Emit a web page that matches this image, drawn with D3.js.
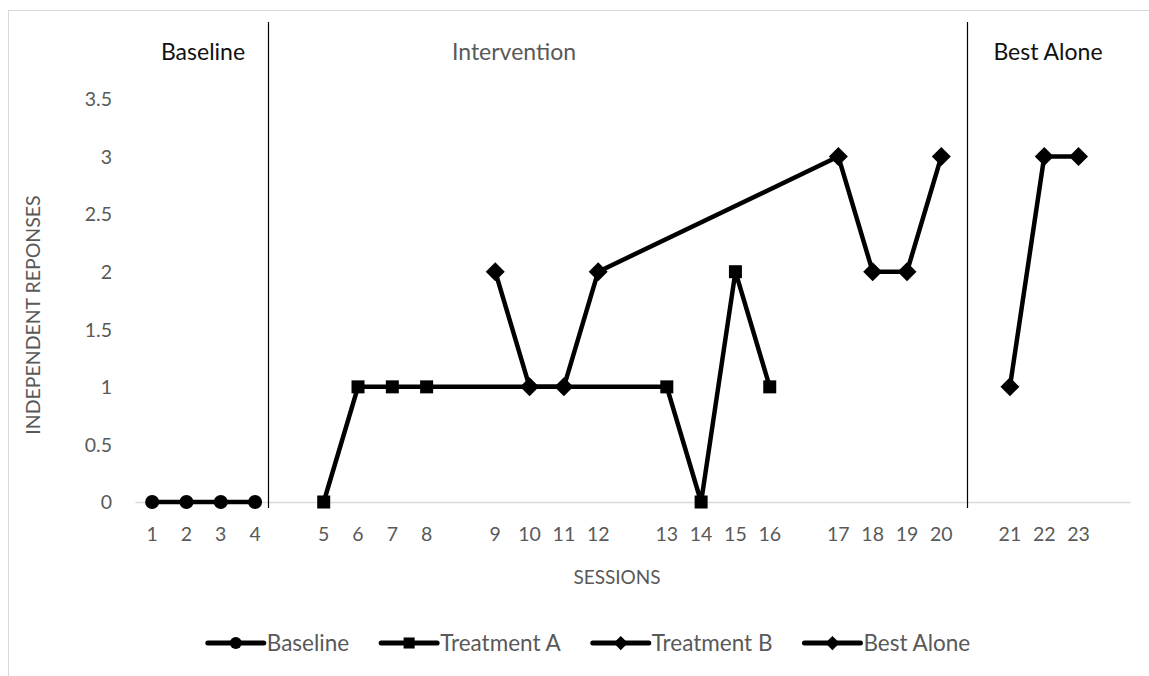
<!DOCTYPE html>
<html>
<head>
<meta charset="utf-8">
<script src="https://cdn.jsdelivr.net/npm/d3@7"></script>
<style>
  html, body { margin: 0; padding: 0; background: #fff; }
  svg { display: block; font-family: Lato, "Liberation Sans", sans-serif; }
</style>
</head>
<body>
<svg id="chart" width="1149" height="676"></svg>
<script>
// ---- data ----
const categories = ["1","2","3","4","","5","6","7","8","","9","10","11","12","","13","14","15","16","","17","18","19","20","","21","22","23",""];
const yTicks = [0, 0.5, 1, 1.5, 2, 2.5, 3, 3.5];

const baselineSessions = [1, 2, 3, 4];
const baselineValues   = [0, 0, 0, 0];

const treatmentASessions = [5, 6, 7, 8, 13, 14, 15, 16];
const treatmentAValues   = [0, 1, 1, 1, 1, 0, 2, 1];

const treatmentBSessions = [9, 10, 11, 12, 17, 18, 19, 20];
const treatmentBValues   = [2, 1, 1, 2, 3, 2, 2, 3];

const bestAloneSessions = [21, 22, 23];
const bestAloneValues   = [1, 3, 3];

const phaseNames = ["Baseline", "Intervention", "Best Alone"];

// ---- layout ----
const svg = d3.select("#chart");
const plot = { left: 135, right: 1130, top: 99, bottom: 502 };

svg.append("rect").attr("x", 8.5).attr("y", 10.5).attr("width", 1200).attr("height", 700)
  .attr("fill", "#fff").attr("stroke", "#d9d9d9").attr("stroke-width", 1);

const x = d3.scaleBand().domain(d3.range(categories.length)).range([plot.left, plot.right]).padding(0);
const bw = x.bandwidth();
const xc = i => x(i) + bw / 2;
const y = d3.scaleLinear().domain([0, 3.5]).range([plot.bottom, plot.top]);

// x axis
const xAxis = d3.axisBottom(x).tickSize(0).tickPadding(0).tickFormat(i => categories[i]);
const gx = svg.append("g").attr("transform", `translate(0,${plot.bottom})`).call(xAxis);
gx.select(".domain").attr("stroke", "#d9d9d9").attr("stroke-width", 1.5);
gx.selectAll("text").attr("fill", "#595959").attr("font-size", 19.5).attr("font-family", "Lato")
  .attr("y", 32).attr("dy", "0.35em");

// y axis
const yAxis = d3.axisLeft(y).tickValues(yTicks).tickSize(0).tickPadding(0).tickFormat(d => String(d));
const gy = svg.append("g").attr("transform", `translate(${plot.left},0)`).call(yAxis);
gy.select(".domain").remove();
gy.selectAll("text").attr("fill", "#595959").attr("font-size", 19.5).attr("font-family", "Lato")
  .attr("x", -23).attr("dy", "0.35em");

// phase lines
const phaseLinePos = [3.88, 24.25]; // in category units from left edge
phaseLinePos.forEach(p => {
  const px = Math.round(plot.left + p * bw) + 0.5;
  svg.append("line").attr("x1", px).attr("x2", px).attr("y1", 22).attr("y2", 508)
    .attr("stroke", "#000").attr("stroke-width", 1.2);
});

// phase labels
const phaseLabelX = [203, 514, 1048];
const phaseLabelColor = ["#111", "#595959", "#111"];
phaseNames.forEach((n, i) => {
  svg.append("text").attr("x", phaseLabelX[i]).attr("y", 52).attr("dy", "0.35em")
    .attr("text-anchor", "middle").attr("font-size", 23).attr("fill", phaseLabelColor[i]).text(n);
});

// axis titles
svg.append("text").attr("transform", "translate(33,315) rotate(-90)").attr("text-anchor", "middle")
  .attr("dy", "0.35em").attr("font-size", 19.5).attr("fill", "#595959").text("INDEPENDENT REPONSES");
svg.append("text").attr("x", 617).attr("y", 577).attr("dy", "0.35em").attr("text-anchor", "middle")
  .attr("font-size", 19).attr("fill", "#595959").text("SESSIONS");

// series
const idx = s => categories.indexOf(String(s));
const series = [
  { name: "Baseline",    sessions: baselineSessions,   values: baselineValues,   marker: "circle" },
  { name: "Treatment A", sessions: treatmentASessions, values: treatmentAValues, marker: "square" },
  { name: "Treatment B", sessions: treatmentBSessions, values: treatmentBValues, marker: "diamond" },
  { name: "Best Alone",  sessions: bestAloneSessions,  values: bestAloneValues,  marker: "diamond" }
];
const line = d3.line().x(d => xc(idx(d.s))).y(d => y(d.v));

function drawMarker(g, type, cx, cy, scale) {
  if (type === "circle") {
    g.append("circle").attr("cx", cx).attr("cy", cy).attr("r", 7 * scale).attr("fill", "#000");
  } else if (type === "square") {
    const s = 13 * scale;
    g.append("rect").attr("x", cx - s / 2).attr("y", cy - s / 2).attr("width", s).attr("height", s).attr("fill", "#000");
  } else {
    const r = 9.5 * scale;
    g.append("path").attr("d", `M${cx},${cy - r}L${cx + r},${cy}L${cx},${cy + r}L${cx - r},${cy}Z`).attr("fill", "#000");
  }
}

const gs = svg.append("g");
series.forEach(sr => {
  const pts = sr.sessions.map((s, i) => ({ s, v: sr.values[i] }));
  gs.append("path").datum(pts).attr("d", line).attr("fill", "none").attr("stroke", "#000")
    .attr("stroke-width", 4.5).attr("stroke-linejoin", "round");
  pts.forEach(p => drawMarker(gs, sr.marker, xc(idx(p.s)), y(p.v), 1));
});

// legend
const legY = 643;
const legG = svg.append("g");
const sampleW = 56, textGap = 3, itemGap = 32;
let items = series.map(sr => {
  const t = legG.append("text").attr("y", legY).attr("dy", "0.35em").attr("font-size", 22.5)
    .attr("fill", "#595959").text(sr.name);
  return { sr, t, w: t.node().getComputedTextLength() };
});
const total = d3.sum(items, d => sampleW + textGap + d.w) + itemGap * (items.length - 1);
let cx0 = 589 - total / 2;
items.forEach(it => {
  legG.append("line").attr("x1", cx0).attr("x2", cx0 + sampleW).attr("y1", legY).attr("y2", legY)
    .attr("stroke", "#000").attr("stroke-width", 5).attr("stroke-linecap", "round");
  drawMarker(legG, it.sr.marker, cx0 + sampleW / 2, legY, it.sr.marker === "diamond" ? 0.75 : 0.85);
  it.t.attr("x", cx0 + sampleW + textGap);
  cx0 += sampleW + textGap + it.w + itemGap;
});
</script>
</body>
</html>
